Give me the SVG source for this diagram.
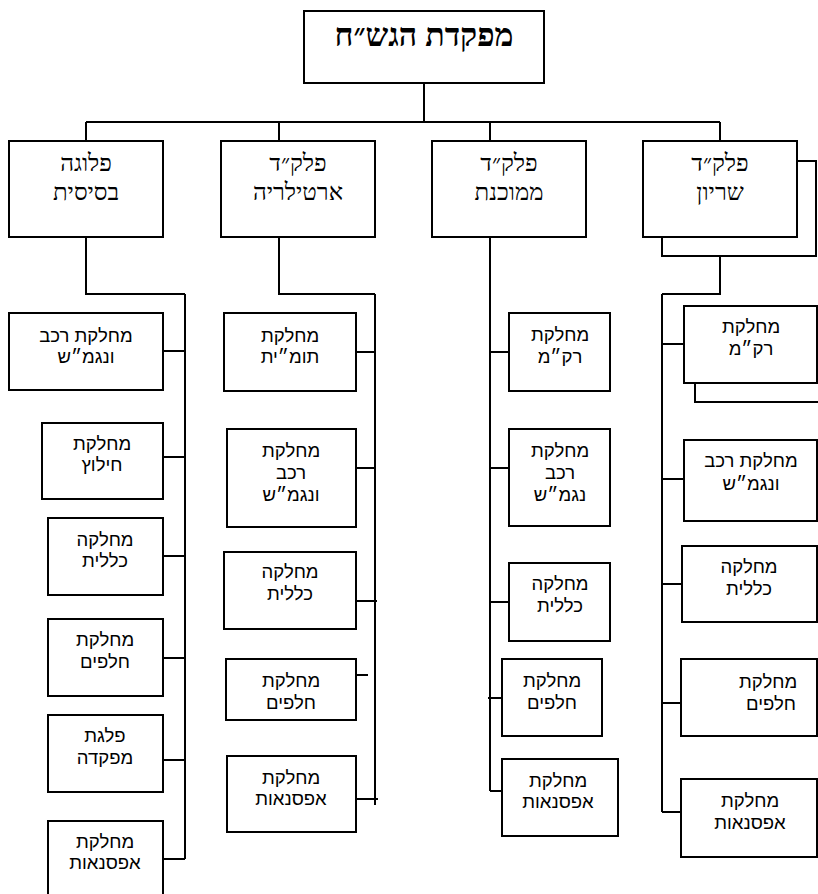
<svg xmlns="http://www.w3.org/2000/svg" width="818" height="894" viewBox="0 0 818 894">
<style>
  .box { fill: #ffffff; stroke: #000000; stroke-width: 2; }
  .sh { fill: #ffffff; stroke: #000000; stroke-width: 2; }
  .ln { stroke: #000000; stroke-width: 2; fill: none; }
  .t0 { font-family: "Liberation Serif", "DejaVu Serif", serif; font-weight: bold; font-size: 32px; text-anchor: middle; fill: #000; }
  .t1 { font-family: "Liberation Serif", "DejaVu Serif", serif; font-size: 24px; text-anchor: middle; fill: #000; }
  .t2 { font-family: "Liberation Sans", "DejaVu Sans", sans-serif; font-size: 18.5px; text-anchor: middle; fill: #000; }
</style>
<rect x="0" y="0" width="818" height="894" fill="#ffffff"/>

<g id="connectors">
  <path class="ln" d="M424 83 V122 M86 122 H720 M86 122 V141 M279 122 V141 M490 122 V141 M720 122 V141"/>
  <!-- column 1 -->
  <path class="ln" d="M86 237 V294 H185 M185 294 V859 M163 351 H185 M163 457 H185 M163 556 H185 M163 658 H185 M163 760 H185 M163 859 H185"/>
  <!-- column 2 -->
  <path class="ln" d="M279 237 V294 H375 M375 294 V805 M356 352 H375 M356 468 H375 M356 601 H377 M356 675 H368 M356 799 H378"/>
  <!-- column 3 -->
  <path class="ln" d="M490 237 V791 M490 352 H509 M490 468 H509 M490 602 H509 M488 698 H502 M490 791 H502"/>
  <!-- column 4 -->
  <path class="ln" d="M720 256 V294 H662 M662 294 V812 M662 344 H684 M662 479 H684 M662 584 H682 M662 703 H681 M662 812 H681"/>
</g>

<g id="hq">
  <rect class="box" x="304" y="11" width="240" height="72"/>
  <text class="t0" x="424" y="46">מפקדת הגש״ח</text>
</g>

<g id="l2-basic">
  <rect class="box" x="9" y="141" width="154" height="96"/>
  <text class="t1" x="86" y="171">פלוגה</text>
  <text class="t1" x="86" y="200">בסיסית</text>
</g>
<g id="l2-artillery">
  <rect class="box" x="221" y="141" width="154" height="96"/>
  <text class="t1" x="298" y="171">פלק״ד</text>
  <text class="t1" x="298" y="200">ארטילריה</text>
</g>
<g id="l2-mech">
  <rect class="box" x="432" y="141" width="154" height="96"/>
  <text class="t1" x="509" y="171">פלק״ד</text>
  <text class="t1" x="509" y="200">ממוכנת</text>
</g>
<g id="l2-armor">
  <rect class="sh" x="662" y="161" width="154" height="95"/>
  <rect class="box" x="643" y="141" width="154" height="96"/>
  <text class="t1" x="720" y="171">פלק״ד</text>
  <text class="t1" x="720" y="200">שריון</text>
</g>

<!-- column 1 -->
<g id="c1-b1">
  <rect class="box" x="9" y="313" width="154" height="77"/>
  <text class="t2" x="86" y="342">מחלקת רכב</text>
  <text class="t2" x="86" y="363">ונגמ״ש</text>
</g>
<g id="c1-b2">
  <rect class="box" x="42" y="423" width="121" height="76"/>
  <text class="t2" x="102" y="450">מחלקת</text>
  <text class="t2" x="102" y="471">חילוץ</text>
</g>
<g id="c1-b3">
  <rect class="box" x="48" y="518" width="115" height="77"/>
  <text class="t2" x="105" y="546">מחלקה</text>
  <text class="t2" x="105" y="567">כללית</text>
</g>
<g id="c1-b4">
  <rect class="box" x="48" y="619" width="115" height="77"/>
  <text class="t2" x="105" y="646">מחלקת</text>
  <text class="t2" x="105" y="668">חלפים</text>
</g>
<g id="c1-b5">
  <rect class="box" x="48" y="715" width="115" height="77"/>
  <text class="t2" x="105" y="742">פלגת</text>
  <text class="t2" x="105" y="764">מפקדה</text>
</g>
<g id="c1-b6">
  <rect class="box" x="48" y="821" width="115" height="80"/>
  <text class="t2" x="105" y="848">מחלקת</text>
  <text class="t2" x="105" y="869">אפסנאות</text>
</g>

<!-- column 2 -->
<g id="c2-b1">
  <rect class="box" x="224" y="313" width="132" height="78"/>
  <text class="t2" x="290" y="342">מחלקת</text>
  <text class="t2" x="290" y="363">תומ״ית</text>
</g>
<g id="c2-b2">
  <rect class="box" x="227" y="429" width="129" height="98"/>
  <text class="t2" x="291" y="457">מחלקת</text>
  <text class="t2" x="291" y="479">רכב</text>
  <text class="t2" x="291" y="501">ונגמ״ש</text>
</g>
<g id="c2-b3">
  <rect class="box" x="224" y="552" width="132" height="77"/>
  <text class="t2" x="290" y="578">מחלקה</text>
  <text class="t2" x="290" y="600">כללית</text>
</g>
<g id="c2-b4">
  <rect class="box" x="226" y="659" width="130" height="61"/>
  <text class="t2" x="291" y="687">מחלקת</text>
  <text class="t2" x="291" y="709">חלפים</text>
</g>
<g id="c2-b5">
  <rect class="box" x="227" y="756" width="129" height="76"/>
  <text class="t2" x="291" y="784">מחלקת</text>
  <text class="t2" x="291" y="805">אפסנאות</text>
</g>

<!-- column 3 -->
<g id="c3-b1">
  <rect class="box" x="509" y="313" width="101" height="78"/>
  <text class="t2" x="560" y="341">מחלקת</text>
  <text class="t2" x="560" y="363">רק״מ</text>
</g>
<g id="c3-b2">
  <rect class="box" x="509" y="429" width="101" height="97"/>
  <text class="t2" x="560" y="457">מחלקת</text>
  <text class="t2" x="560" y="479">רכב</text>
  <text class="t2" x="560" y="501">נגמ״ש</text>
</g>
<g id="c3-b3">
  <rect class="box" x="509" y="563" width="101" height="78"/>
  <text class="t2" x="560" y="590">מחלקה</text>
  <text class="t2" x="560" y="612">כללית</text>
</g>
<g id="c3-b4">
  <rect class="box" x="502" y="659" width="100" height="77"/>
  <text class="t2" x="552" y="687">מחלקת</text>
  <text class="t2" x="552" y="709">חלפים</text>
</g>
<g id="c3-b5">
  <rect class="box" x="502" y="759" width="116" height="77"/>
  <text class="t2" x="558" y="787">מחלקת</text>
  <text class="t2" x="558" y="808">אפסנאות</text>
</g>

<!-- column 4 -->
<g id="c4-b1">
  <rect class="sh" x="695" y="326" width="140" height="76"/>
  <rect class="box" x="684" y="306" width="133" height="77"/>
  <text class="t2" x="751" y="333">מחלקת</text>
  <text class="t2" x="751" y="355">רק״מ</text>
</g>
<g id="c4-b2">
  <rect class="box" x="684" y="440" width="133" height="81"/>
  <text class="t2" x="751" y="467">מחלקת רכב</text>
  <text class="t2" x="751" y="490">ונגמ״ש</text>
</g>
<g id="c4-b3">
  <rect class="box" x="682" y="546" width="135" height="76"/>
  <text class="t2" x="749" y="573">מחלקה</text>
  <text class="t2" x="749" y="595">כללית</text>
</g>
<g id="c4-b4">
  <rect class="box" x="681" y="659" width="136" height="77"/>
  <text class="t2" x="768" y="688">מחלקת</text>
  <text class="t2" x="771" y="710">חלפים</text>
</g>
<g id="c4-b5">
  <rect class="box" x="681" y="779" width="136" height="78"/>
  <text class="t2" x="750" y="807">מחלקת</text>
  <text class="t2" x="750" y="829">אפסנאות</text>
</g>
</svg>
